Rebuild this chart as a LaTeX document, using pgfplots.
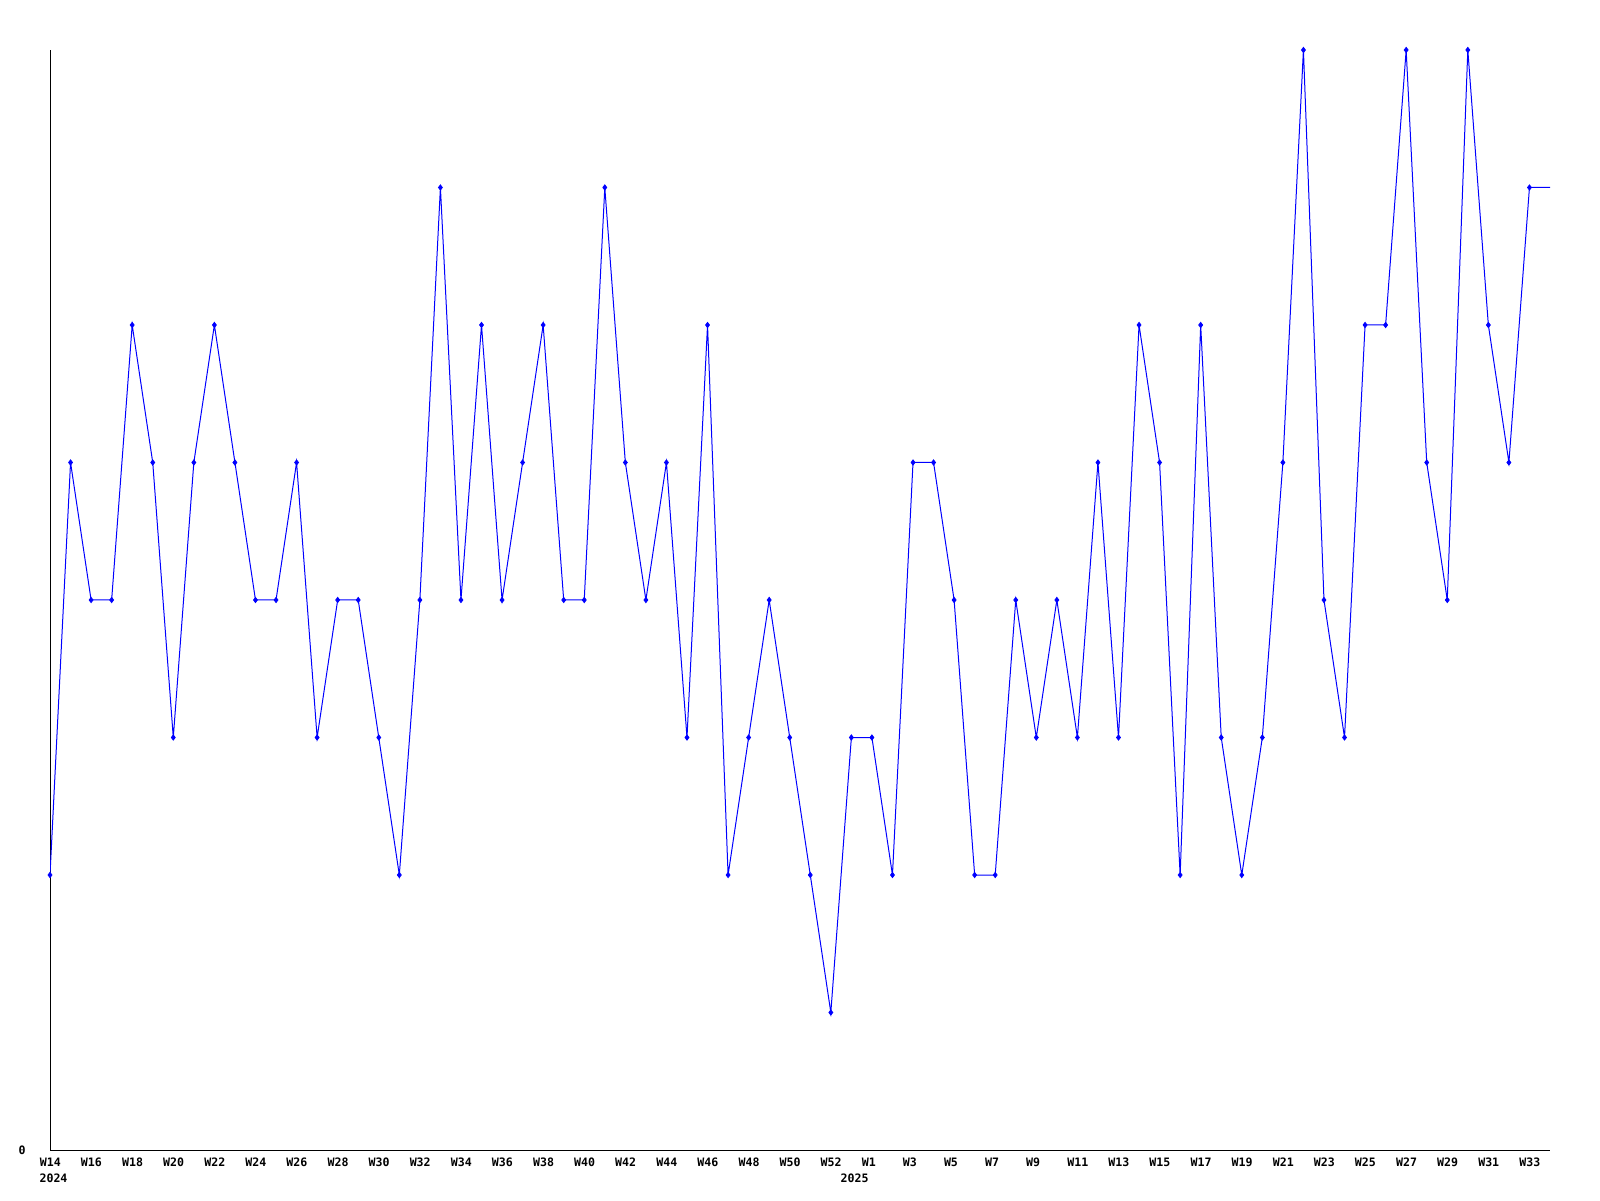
\documentclass[border=0pt]{standalone}
\usepackage{pgfplots}
\pgfplotsset{compat=1.18}
\usepackage{fontspec}
\newfontfamily\monof{DejaVu Sans Mono}
\begin{document}
\begin{tikzpicture}[x=1pt,y=1pt]
\path[use as bounding box] (-25,-25) rectangle (775,575);
\begin{axis}[
  at={(0,0)}, anchor=south west,
  scale only axis, width=750pt, height=550pt,
  xmin=0, xmax=73, ymin=0, ymax=8,
  axis x line=bottom, axis y line=left,
  axis line style={-, black, line width=0.5pt},
  major tick length=0pt,
  xtick={0,2,...,72},
  xticklabels={W14,W16,W18,W20,W22,W24,W26,W28,W30,W32,W34,W36,W38,W40,W42,W44,W46,W48,W50,W52,W1,W3,W5,W7,W9,W11,W13,W15,W17,W19,W21,W23,W25,W27,W29,W31,W33},
  xticklabel style={font=\monof\bfseries\fontsize{5.8}{6.5}\selectfont, anchor=north west, inner sep=0pt, xshift=-5.25pt, yshift=-3.6pt},
  ytick={0}, yticklabels={0},
  yticklabel style={font=\monof\bfseries\fontsize{5.8}{6.5}\selectfont, anchor=east, inner sep=0pt, xshift=-12pt},
  clip=true,
]
\addplot[blue, line width=0.5pt, mark=none] coordinates {
(0,2)(1,5)(2,4)(3,4)(4,6)(5,5)(6,3)(7,5)(8,6)(9,5)
(10,4)(11,4)(12,5)(13,3)(14,4)(15,4)(16,3)(17,2)(18,4)(19,7)
(20,4)(21,6)(22,4)(23,5)(24,6)(25,4)(26,4)(27,7)(28,5)(29,4)
(30,5)(31,3)(32,6)(33,2)(34,3)(35,4)(36,3)(37,2)(38,1)(39,3)
(40,3)(41,2)(42,5)(43,5)(44,4)(45,2)(46,2)(47,4)(48,3)(49,4)
(50,3)(51,5)(52,3)(53,6)(54,5)(55,2)(56,6)(57,3)(58,2)(59,3)
(60,5)(61,8)(62,4)(63,3)(64,6)(65,6)(66,8)(67,5)(68,4)(69,8)
(70,6)(71,5)(72,7)(73,7)
};
\addplot[blue, only marks, mark=diamond*, mark size=1.3pt, mark options={fill=blue, draw=blue}] coordinates {
(0,2)(1,5)(2,4)(3,4)(4,6)(5,5)(6,3)(7,5)(8,6)(9,5)
(10,4)(11,4)(12,5)(13,3)(14,4)(15,4)(16,3)(17,2)(18,4)(19,7)
(20,4)(21,6)(22,4)(23,5)(24,6)(25,4)(26,4)(27,7)(28,5)(29,4)
(30,5)(31,3)(32,6)(33,2)(34,3)(35,4)(36,3)(37,2)(38,1)(39,3)
(40,3)(41,2)(42,5)(43,5)(44,4)(45,2)(46,2)(47,4)(48,3)(49,4)
(50,3)(51,5)(52,3)(53,6)(54,5)(55,2)(56,6)(57,3)(58,2)(59,3)
(60,5)(61,8)(62,4)(63,3)(64,6)(65,6)(66,8)(67,5)(68,4)(69,8)
(70,6)(71,5)(72,7)
};
\end{axis}
\node[font=\monof\bfseries\fontsize{5.8}{6.5}\selectfont, anchor=north, inner sep=0pt] at (1.75,-11.5) {2024};
\node[font=\monof\bfseries\fontsize{5.8}{6.5}\selectfont, anchor=north, inner sep=0pt] at (402.3,-11.5) {2025};
\end{tikzpicture}
\end{document}
